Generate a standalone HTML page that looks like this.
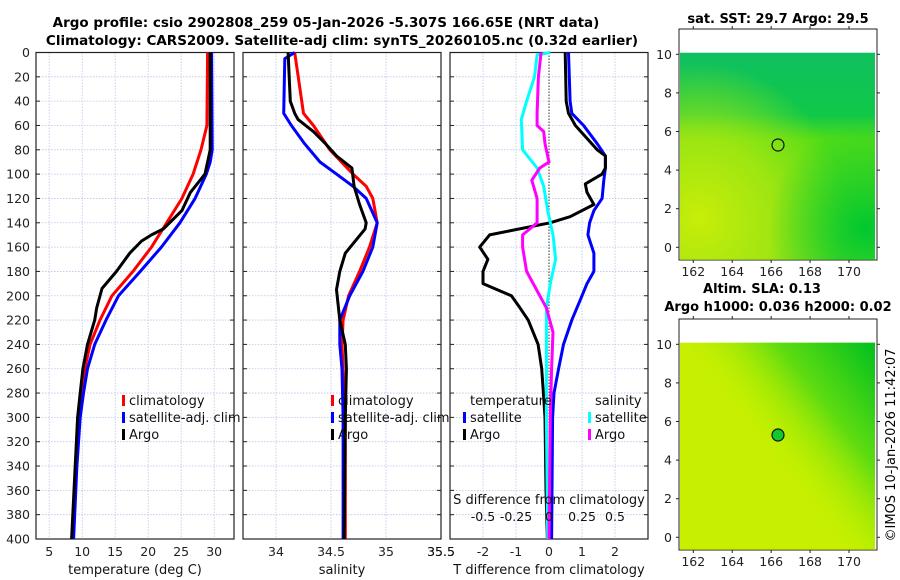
<!DOCTYPE html>
<html><head><meta charset="utf-8"><style>
html,body{margin:0;padding:0;background:#fff;}
svg{display:block;font-family:"DejaVu Sans","Liberation Sans",sans-serif;}
</style></head><body>
<svg id="fig" width="900" height="580" viewBox="0 0 900 580" xmlns="http://www.w3.org/2000/svg">
<defs>
<radialGradient id="g1a" cx="0.1" cy="0.8" r="0.75"><stop offset="0" stop-color="#c8ee08"/><stop offset="0.5" stop-color="#b0e810" stop-opacity="0.8"/><stop offset="1" stop-color="#b0e810" stop-opacity="0"/></radialGradient>
<radialGradient id="g1b" cx="0.95" cy="0.85" r="0.5"><stop offset="0" stop-color="#00c830"/><stop offset="1" stop-color="#00c830" stop-opacity="0"/></radialGradient>
<linearGradient id="g1c" x1="0" y1="0" x2="0" y2="1"><stop offset="0" stop-color="#10c060"/><stop offset="0.3" stop-color="#10c848"/><stop offset="0.42" stop-color="#50dc18"/><stop offset="1" stop-color="#70dc18"/></linearGradient>
<linearGradient id="g2a" x1="1" y1="0" x2="0.4" y2="0.5"><stop offset="0" stop-color="#00c020"/><stop offset="0.5" stop-color="#60dc10"/><stop offset="1" stop-color="#c4f000" stop-opacity="0"/></linearGradient>
</defs>
<text x="326" y="27" text-anchor="middle" font-size="13.5" font-weight="bold">Argo profile: csio 2902808_259 05-Jan-2026 -5.307S 166.65E (NRT data)</text>
<text x="342" y="45" text-anchor="middle" font-size="13.5" font-weight="bold">Climatology: CARS2009. Satellite-adj clim: synTS_20260105.nc (0.32d earlier)</text>
<g id="panels"></g>
<g>
<text x="778" y="23" text-anchor="middle" font-size="13" font-weight="bold">sat. SST: 29.7 Argo: 29.5</text>
<rect x="679" y="29" width="198" height="231" fill="#fff" stroke="#222"/>
<rect x="680" y="52.7" width="195" height="207" fill="url(#g1c)"/>
<rect x="680" y="52.7" width="195" height="207" fill="url(#g1a)"/>
<rect x="680" y="52.7" width="195" height="207" fill="url(#g1b)"/>
<circle cx="778" cy="145" r="6" fill="none" stroke="#111" stroke-width="1.2"/>
</g>
<g>
<text x="762" y="293" text-anchor="middle" font-size="13" font-weight="bold">Altim. SLA: 0.13</text>
<text x="778" y="311" text-anchor="middle" font-size="13" font-weight="bold">Argo h1000: 0.036 h2000: 0.02</text>
<rect x="679" y="319" width="198" height="231" fill="#fff" stroke="#222"/>
<rect x="680" y="342.7" width="195" height="207" fill="#c6f000"/>
<rect x="680" y="342.7" width="195" height="207" fill="url(#g2a)"/>
<circle cx="778" cy="435" r="6" fill="#10c830" stroke="#111" stroke-width="1.2"/>
</g>
<g id="maptick"></g>
<text transform="translate(895,445) rotate(-90)" text-anchor="middle" font-size="13">©IMOS 10-Jan-2026 11:42:07</text>
</svg>
<script>
const depthTicks=[0,20,40,60,80,100,120,140,160,180,200,220,240,260,280,300,320,340,360,380,400];
const tTicks=[5,10,15,20,25,30];
const sTicks=[34,34.5,35,35.5];
const dTTicks=[-2,-1,0,1,2];
const dSTicks=[-0.5,-0.25,0,0.25,0.5];
const dSTickLabels=["-0.5","-0.25","0","0.25","0.5"];
const climTDepth=[0,60,80,100,120,140,160,180,200,220,240,260,280,300,400];
const climT=[29.0,28.9,28.0,26.8,25.1,22.8,20.5,17.7,14.5,12.7,11.2,10.4,9.9,9.5,8.6];
const satTDepth=[0,80,90,100,120,140,160,180,200,220,240,260,280,300,340,400];
const satT=[29.6,29.7,29.4,28.8,27.1,24.8,22.0,18.8,15.5,13.6,11.9,10.8,10.2,9.7,9.2,8.7];
const argoTDepth=[0,80,100,115,130,145,150,155,165,180,194,210,220,240,260,280,300,400];
const argoT=[29.4,29.4,28.6,26.4,25.1,22.3,20.5,19.0,17.2,15.2,13.0,12.2,11.9,10.8,10.1,9.7,9.3,8.4];
const climSDepth=[0,50,60,80,100,110,120,140,160,180,200,220,240,260,300,400];
const climS=[34.17,34.25,34.34,34.49,34.70,34.82,34.88,34.92,34.85,34.76,34.66,34.61,34.60,34.61,34.63,34.63];
const satSDepth=[0,5,50,60,75,90,100,110,120,140,160,180,200,220,240,260,300,400];
const satS=[34.17,34.08,34.07,34.14,34.26,34.40,34.55,34.70,34.82,34.92,34.88,34.79,34.67,34.58,34.58,34.60,34.61,34.61];
const argoSDepth=[0,40,50,55,65,75,85,95,110,125,140,145,165,180,195,220,240,260,300,400];
const argoS=[34.11,34.13,34.17,34.20,34.34,34.45,34.55,34.69,34.71,34.76,34.82,34.81,34.63,34.58,34.55,34.58,34.63,34.64,34.63,34.62];
const satDTDepth=[0,40,50,60,75,85,95,105,120,130,140,150,165,180,190,200,220,240,260,280,300,400];
const satDT=[0.59,0.64,0.69,1.05,1.46,1.71,1.71,1.66,1.61,1.36,1.23,1.18,1.36,1.36,1.15,1.0,0.69,0.44,0.29,0.15,0.11,0.08];
const argoDTDepth=[0,40,50,60,80,85,95,100,108,115,125,135,140,150,160,170,180,190,200,210,220,240,260,280,300,360,400];
const argoDT=[0.49,0.52,0.59,0.8,1.46,1.71,1.71,1.61,1.1,1.15,1.36,0.64,0.03,-1.8,-2.1,-1.85,-2.0,-2.0,-1.14,-0.88,-0.63,-0.33,-0.22,-0.17,-0.12,-0.09,-0.05];
const satDSDepth=[0,2,20,40,55,80,95,110,130,150,170,190,210,250,300,400];
const satDS=[0.01,-0.09,-0.11,-0.17,-0.21,-0.20,-0.09,-0.04,-0.01,0.03,0.05,0.01,-0.02,-0.02,-0.02,-0.01];
const argoDSDepth=[0,20,50,60,65,75,90,95,105,120,140,150,160,180,200,210,230,260,300,400];
const argoDS=[-0.06,-0.08,-0.09,-0.09,-0.04,-0.03,0.0,-0.07,-0.13,-0.09,-0.09,-0.20,-0.20,-0.17,-0.07,-0.02,0.03,0.02,0.01,0.0];
const lonTicks=[162,164,166,168,170];
const latTicks=[0,2,4,6,8,10];

const NS="http://www.w3.org/2000/svg";
const root=document.getElementById('panels');
function mk(tag,attrs,parent){const e=document.createElementNS(NS,tag);for(const k in attrs)e.setAttribute(k,attrs[k]);(parent||root).appendChild(e);return e;}
const Y0=52.5,Y1=539;
const yD=d=>Y0+(d/400)*(Y1-Y0);
function lin(d0,d1,r0,r1){return v=>r0+(v-d0)/(d1-d0)*(r1-r0);}
const panels=[{x0:36,x1:234,lo:3,hi:33},{x0:243,x1:441,lo:33.7,hi:35.5},{x0:450,x1:648,lo:-3,hi:3}];
const xT=lin(3,33,36,234), xS=lin(33.7,35.5,243,441), xDT=lin(-3,3,450,648), xDS=lin(-0.75,0.75,450,648);

function frame(p,name,ticks,xf,labels,showDepth){
  const g=mk('g',{});
  
  
  depthTicks.forEach(d=>{
    const gl=mk('line',{x1:p.x0,x2:p.x1,y1:yD(d),y2:yD(d),stroke:'#b8c4e8','stroke-width':0.8,'stroke-dasharray':'1.5,1.5'},g);
    
    
    mk('line',{x1:p.x0,x2:p.x0+4,y1:yD(d),y2:yD(d),stroke:'#222'},g);
    mk('line',{x1:p.x1-4,x2:p.x1,y1:yD(d),y2:yD(d),stroke:'#222'},g);
    if(showDepth){const t=mk('text',{x:p.x0-6,y:yD(d)+4.5,'text-anchor':'end','font-size':12.5,fill:'#222'},g);t.textContent=d;
      
      }
  });
  ticks.forEach((v,i)=>{
    const x=xf(v);
    const gl=mk('line',{x1:x,x2:x,y1:Y0,y2:Y1,stroke:'#b8c4e8','stroke-width':0.8,'stroke-dasharray':'1.5,1.5'},g);
    
    
    const t=mk('text',{x:x,y:556,'text-anchor':'middle','font-size':12.5,fill:'#222'},g);t.textContent=labels[i];
    
    
  });
  mk('rect',{x:p.x0,y:Y0,width:p.x1-p.x0,height:Y1-Y0,fill:'none',stroke:'#222','stroke-width':1.2},g);
  return g;
}
function line(depths,vals,xf,color,name,w){
  const pts=depths.map((d,i)=>xf(vals[i]).toFixed(1)+','+yD(d).toFixed(1)).join(' ');
  const l=mk('polyline',{points:pts,fill:'none',stroke:color,'stroke-width':w||3,'stroke-linejoin':'round'});
  
  
}
function txt(x,y,s,name,opt){const t=mk('text',Object.assign({x:x,y:y,'font-size':13,fill:'#111'},opt||{}));t.textContent=s;
  
  return t;}
function key(x,y,color,name){const k=mk('rect',{x:x,y:y-11,width:3,height:11,fill:color});
  
  }

frame(panels[0],'temperature-panel',tTicks,xT,tTicks.map(String),true);
line(climTDepth,climT,xT,'#ff0000','temperature-climatology-line');
line(satTDepth,satT,xT,'#0000ff','temperature-satellite-line');
line(argoTDepth,argoT,xT,'#000000','temperature-argo-line');
txt(135,574,'temperature (deg C)','temperature-axis-title',{'text-anchor':'middle','font-size':13});
key(122,406,'#ff0000','legend-key-climatology');txt(129,405,'climatology','legend-climatology');
key(122,423,'#0000ff','legend-key-satellite');txt(129,422,'satellite-adj. clim','legend-satellite');
key(122,440,'#000','legend-key-argo');txt(129,439,'Argo','legend-argo');

frame(panels[1],'salinity-panel',sTicks,xS,sTicks.map(String),false);
line(climSDepth,climS,xS,'#ff0000','salinity-climatology-line');
line(satSDepth,satS,xS,'#0000ff','salinity-satellite-line');
line(argoSDepth,argoS,xS,'#000000','salinity-argo-line');
txt(342,574,'salinity','salinity-axis-title',{'text-anchor':'middle','font-size':13});
key(331,406,'#ff0000','legend-key-climatology-2');txt(338,405,'climatology','legend-climatology-2');
key(331,423,'#0000ff','legend-key-satellite-2');txt(338,422,'satellite-adj. clim','legend-satellite-2');
key(331,440,'#000','legend-key-argo-2');txt(338,439,'Argo','legend-argo-2');

frame(panels[2],'difference-panel',dTTicks,xDT,dTTicks.map(String),false);
const zl=mk('line',{x1:xDT(0),x2:xDT(0),y1:Y0,y2:Y1,stroke:'#333','stroke-width':1,'stroke-dasharray':'1.5,1.5'});


line(satDTDepth,satDT,xDT,'#0000ff','t-diff-satellite-line');
line(argoDTDepth,argoDT,xDT,'#000000','t-diff-argo-line');
line(satDSDepth,satDS,xDS,'#00ffff','s-diff-satellite-line');
line(argoDSDepth,argoDS,xDS,'#ff00ff','s-diff-argo-line');
txt(549,574,'T difference from climatology','t-diff-axis-title',{'text-anchor':'middle','font-size':13});
txt(549,504,'S difference from climatology','s-diff-axis-title',{'text-anchor':'middle','font-size':13});
dSTicks.forEach((v,i)=>txt(xDS(v),521,dSTickLabels[i],'s-diff-tick-label',{'text-anchor':'middle','font-size':12.5}));
txt(470,405,'temperature','legend-temperature-header');
key(463,423,'#0000ff','legend-key-t-satellite');txt(470,422,'satellite','legend-t-satellite');
key(463,440,'#000','legend-key-t-argo');txt(470,439,'Argo','legend-t-argo');
txt(595,405,'salinity','legend-salinity-header');
key(588,423,'#00ffff','legend-key-s-satellite');txt(595,422,'satellite','legend-s-satellite');
key(588,440,'#ff00ff','legend-key-s-argo');txt(595,439,'Argo','legend-s-argo');
txt(441,556,'35.5','salinity-tick-35.5',{'text-anchor':'middle','font-size':12.5});

const mt=document.getElementById('maptick');
const xLon=lin(162,170,693.3,849);
[[54.3,247.3,29,260],[344.3,537.3,319,550]].forEach(([y10,y0,top,bot])=>{
  const yLat=lin(0,10,y0,y10);
  lonTicks.forEach(v=>{
    mk('line',{x1:xLon(v),x2:xLon(v),y1:bot,y2:bot+3,stroke:'#222'},mt);
    mk('line',{x1:xLon(v),x2:xLon(v),y1:top,y2:top-3,stroke:'#222'},mt);
    const t=mk('text',{x:xLon(v),y:bot+16,'text-anchor':'middle','font-size':12.5,fill:'#222'},mt);t.textContent=v;
    
    
  });
  latTicks.forEach(v=>{
    mk('line',{x1:676,x2:679,y1:yLat(v),y2:yLat(v),stroke:'#222'},mt);
    mk('line',{x1:877,x2:880,y1:yLat(v),y2:yLat(v),stroke:'#222'},mt);
    const t=mk('text',{x:672,y:yLat(v)+4.5,'text-anchor':'end','font-size':12.5,fill:'#222'},mt);t.textContent=v;
    
    
  });
});
</script>
</body></html>
